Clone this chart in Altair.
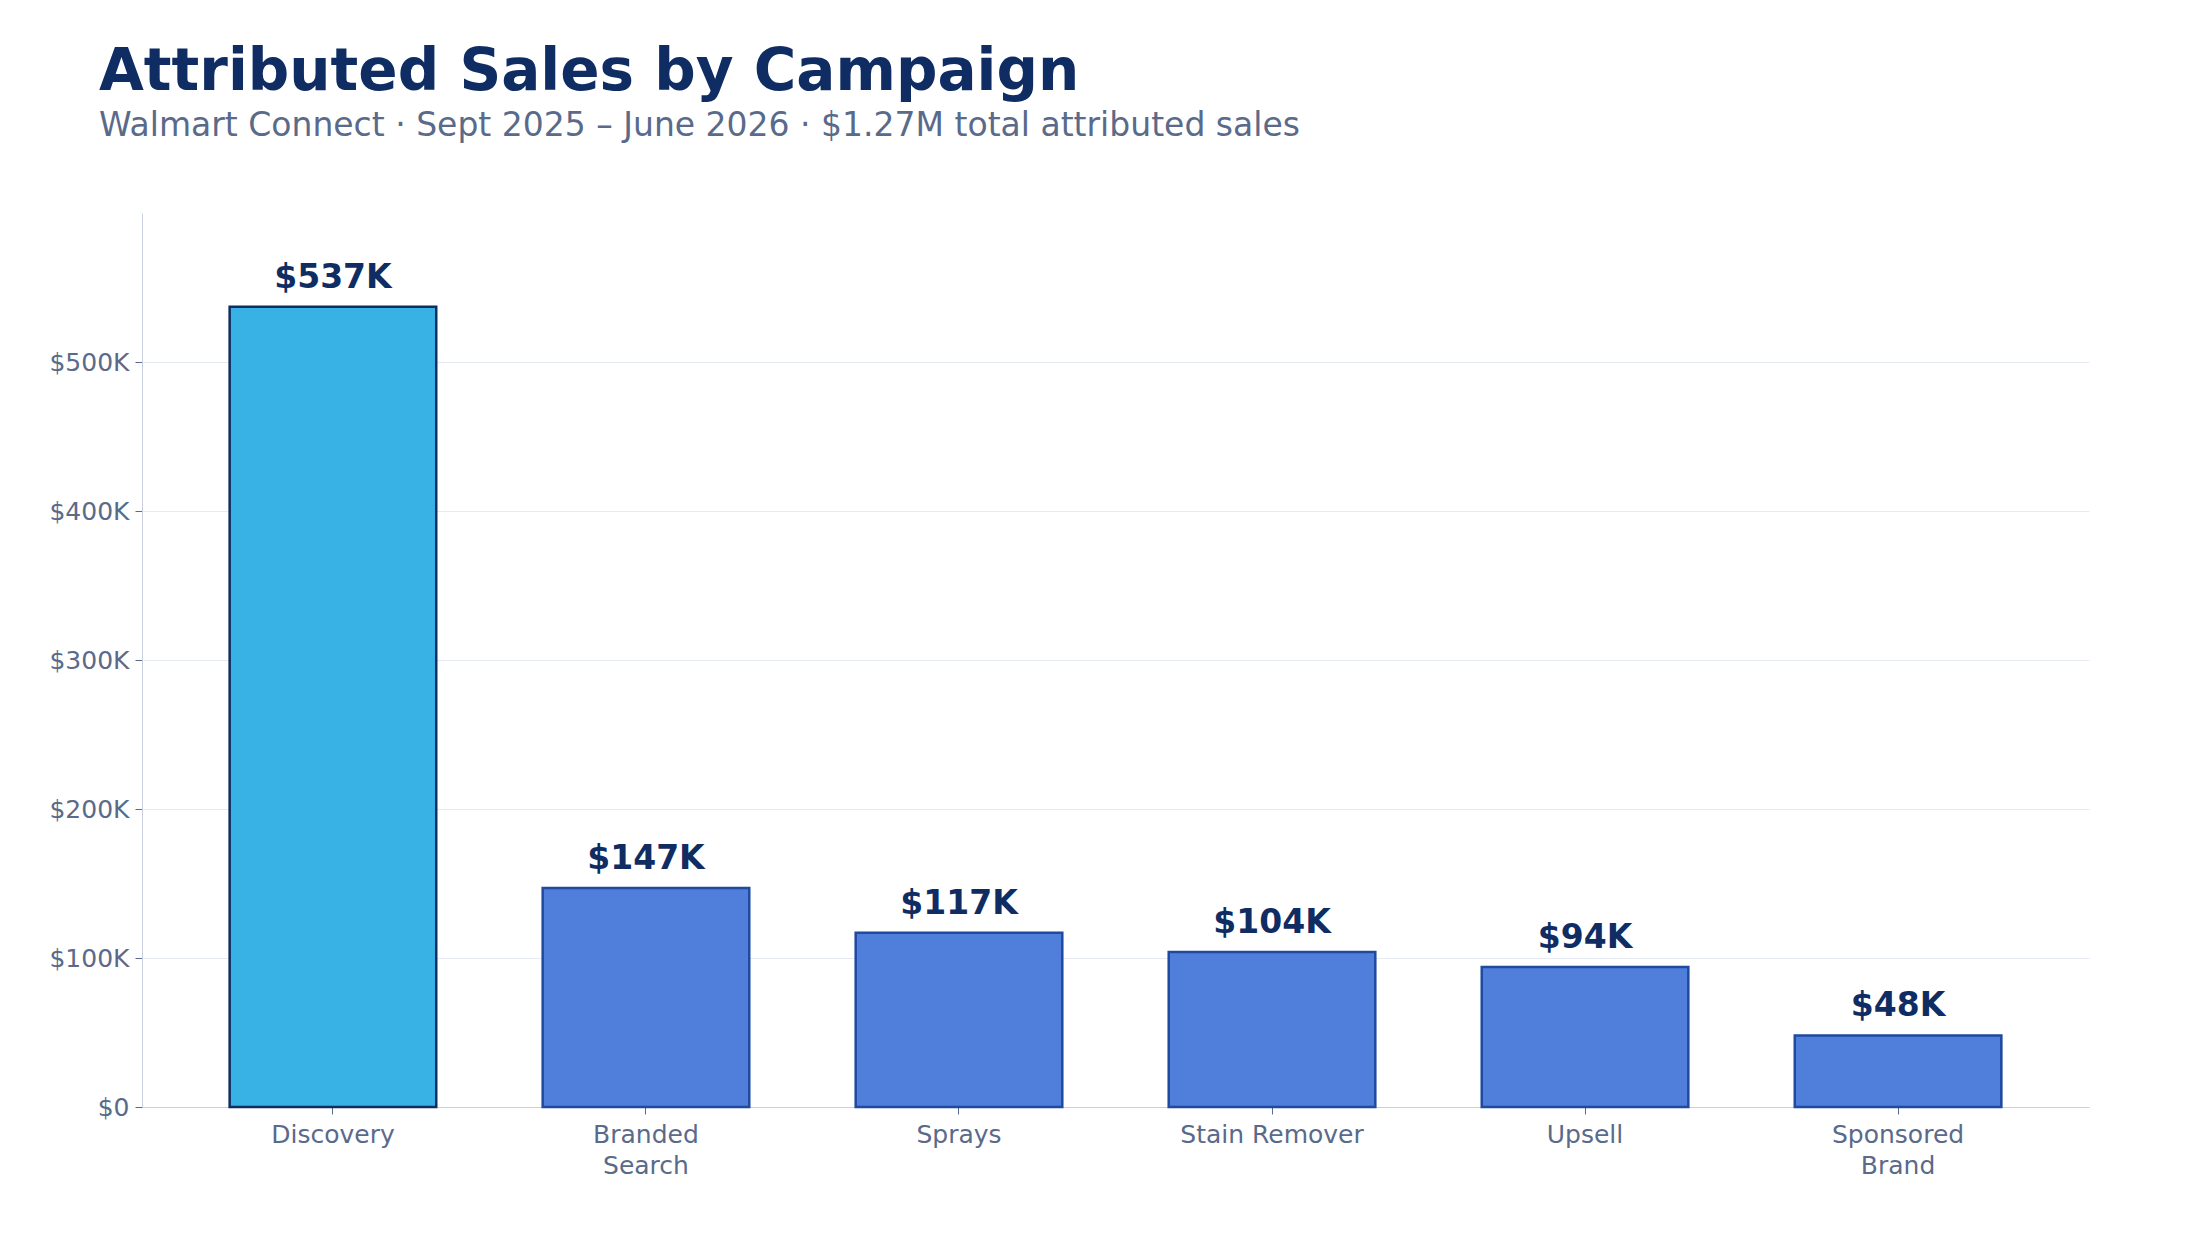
import altair as alt
import pandas as pd

campaigns = ["Discovery", "Branded|Search", "Sprays", "Stain Remover", "Upsell", "Sponsored|Brand"]
sales = [537000, 147000, 117000, 104000, 94000, 48000]
labels = ["$537K", "$147K", "$117K", "$104K", "$94K", "$48K"]
highlight = [True, False, False, False, False, False]

df = pd.DataFrame({"campaign": campaigns, "sales": sales, "label": labels, "hi": highlight})

x = alt.X("campaign:N", sort=campaigns, title=None,
          scale=alt.Scale(paddingInner=0.34, paddingOuter=0.28),
          axis=alt.Axis(labelAngle=0, labelExpr="split(datum.label, '|')", labelFontSize=25,
                        labelColor="#5A6A8A", labelPadding=8, tickColor="#5A6A8A", tickSize=7,
                        domainColor="#C9D0E0", labelLineHeight=31, labelLimit=400))
y = alt.Y("sales:Q", title=None, scale=alt.Scale(domain=[0, 600000], nice=False),
          axis=alt.Axis(values=[0, 100000, 200000, 300000, 400000, 500000],
                        labelExpr="datum.value == 0 ? '$0' : '$' + format(datum.value/1000, 'd') + 'K'",
                        labelFontSize=25, labelColor="#5A6A8A", gridColor="#E6EAF5",
                        tickColor="#5A6A8A", tickSize=7, domainColor="#C9D0E0", labelPadding=6))

bars = alt.Chart(df).mark_bar(strokeWidth=2.5).encode(
    x=x, y=y,
    color=alt.condition("datum.hi", alt.value("#38B2E5"), alt.value("#507EDB")),
    stroke=alt.condition("datum.hi", alt.value("#0F2D5F"), alt.value("#1F4AA0")),
)
text = alt.Chart(df).mark_text(dy=-12, baseline="bottom", fontSize=33, fontWeight="bold",
                               color="#0F2D63").encode(x=x, y=y, text="label:N")

chart = (bars + text).properties(
    width=1947, height=894,
    padding={"left": 40, "top": 36, "right": 5, "bottom": 5},
    title=alt.TitleParams("Attributed Sales by Campaign",
                          subtitle="Walmart Connect · Sept 2025 – June 2026 · $1.27M total attributed sales",
                          anchor="start", fontSize=58, fontWeight="bold", color="#0F2D63",
                          subtitleFontSize=33, subtitleColor="#5A6A8A", subtitlePadding=8,
                          offset=70, dx=50),
).configure(font="DejaVu Sans").configure_view(strokeWidth=0, stroke="transparent").configure_axisX(grid=False)

chart.save("out.html", embed_options={"renderer": "svg", "actions": False})
